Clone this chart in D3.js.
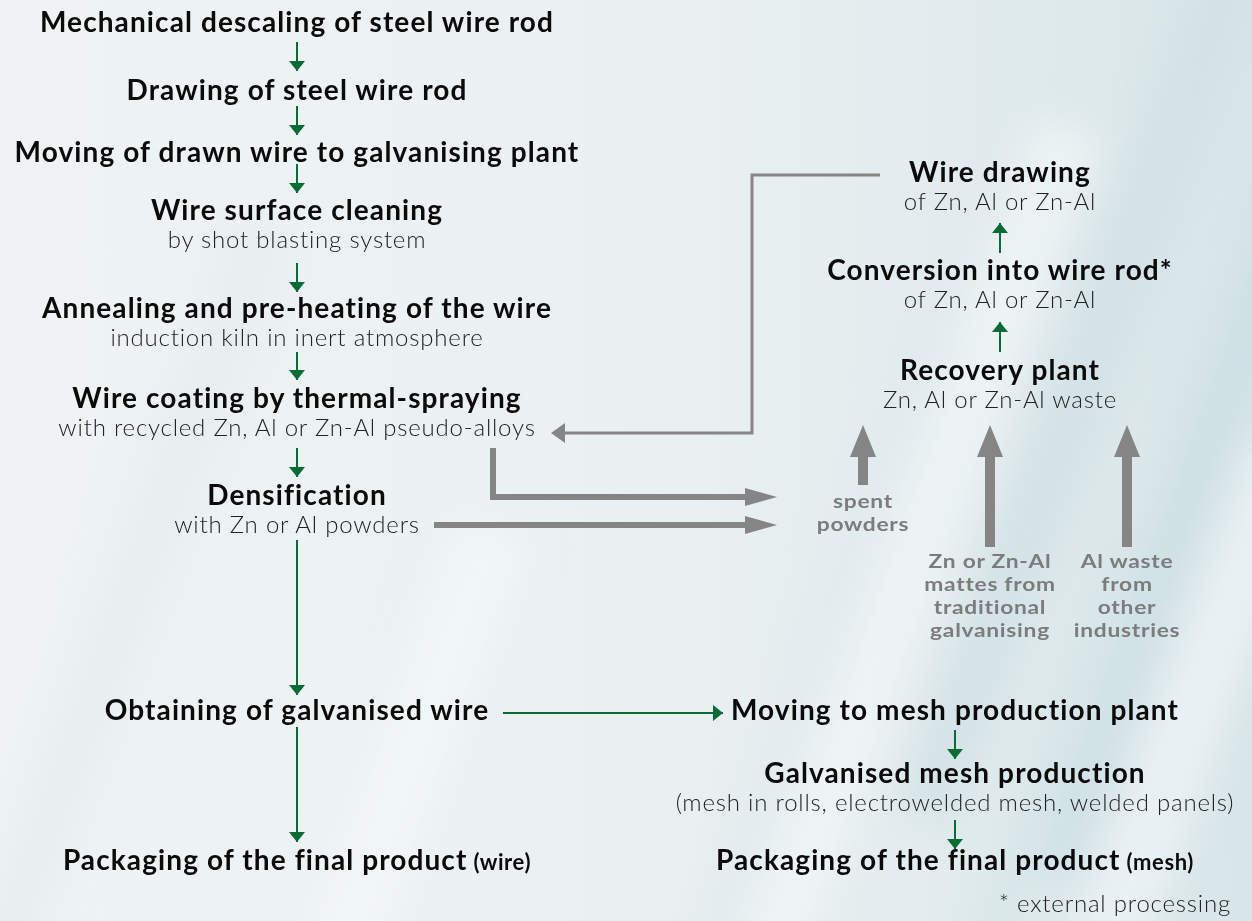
<!DOCTYPE html>
<html>
<head>
<meta charset="utf-8">
<script src="https://cdn.jsdelivr.net/npm/d3@7"></script>
<style>
  body { margin: 0; background: #eef2f3; }
  svg { display: block; }
</style>
</head>
<body>
<div id="chart"></div>
<script>
// process steps (left column)
var mainTitles = [
  "Mechanical descaling of steel wire rod",
  "Drawing of steel wire rod",
  "Moving of drawn wire to galvanising plant",
  "Wire surface cleaning",
  "Annealing and pre-heating of the wire",
  "Wire coating by thermal-spraying",
  "Densification",
  "Obtaining of galvanised wire",
  "Packaging of the final product"
];
var mainSubs = ["", "", "", "by shot blasting system", "induction kiln in inert atmosphere",
  "with recycled Zn, Al or Zn-Al pseudo-alloys", "with Zn or Al powders", "", ""];
var mainSuffix = ["", "", "", "", "", "", "", "", "(wire)"];

// mesh branch
var meshTitles = ["Moving to mesh production plant", "Galvanised mesh production", "Packaging of the final product"];
var meshSubs = ["", "(mesh in rolls, electrowelded mesh, welded panels)", ""];
var meshSuffix = ["", "", "(mesh)"];

// recovery branch (bottom to top)
var recTitles = ["Recovery plant", "Conversion into wire rod*", "Wire drawing"];
var recSubs = ["Zn, Al or Zn-Al waste", "of Zn, Al or Zn-Al", "of Zn, Al or Zn-Al"];

// waste sources feeding recovery plant
var wasteLabels = [
  ["spent", "powders"],
  ["Zn or Zn-Al", "mattes from", "traditional", "galvanising"],
  ["Al waste", "from", "other", "industries"]
];
var footnote = "* external processing";

// layout
var W = 1252, H = 921;
var green = "#0b6b37", grey = "#858585";
var mainX = 297, meshX = 955, recX = 1000;
var mainY = [32, 100, 162, 220, 318, 408, 505, 720, 870];
var meshY = [720, 783, 870];
var recY = [380, 280, 182];
var subGap = 28;
var wasteX = [863, 990, 1127];

var svg = d3.select("#chart").append("svg")
  .attr("width", W).attr("height", H);

// background
var defs = svg.append("defs");
var bg = defs.append("linearGradient").attr("id", "bg")
  .attr("x1", "0%").attr("y1", "0%").attr("x2", "100%").attr("y2", "0%");
bg.append("stop").attr("offset", "0%").attr("stop-color", "#eff3f4");
bg.append("stop").attr("offset", "55%").attr("stop-color", "#eaf0f1");
bg.append("stop").attr("offset", "100%").attr("stop-color", "#d8e6e9");
defs.append("filter").attr("id", "blur").append("feGaussianBlur").attr("stdDeviation", 18);

svg.append("rect").attr("width", W).attr("height", H).attr("fill", "url(#bg)");
var streaks = svg.append("g").attr("filter", "url(#blur)");
[[1050, -60, 60, "#cfe0e4"], [1180, 0, 50, "#c9dde2"], [880, 100, 70, "#f2f6f7"],
 [760, 300, 50, "#dfeaec"], [1100, 420, 70, "#eff5f6"], [960, 520, 40, "#d6e5e8"],
 [300, 500, 80, "#f3f6f7"], [80, 200, 60, "#e6ecee"]].forEach(function(s) {
  streaks.append("rect")
    .attr("x", s[0]).attr("y", s[1]).attr("width", s[2]).attr("height", 900)
    .attr("fill", s[3]).attr("opacity", 0.7)
    .attr("transform", "rotate(20," + (s[0] + s[2] / 2) + "," + (s[1] + 450) + ")");
});

// arrowheads
function headPath(tx, ty, dir, len, wid) {
  var h = wid / 2;
  if (dir === "down") return "M" + tx + "," + ty + "L" + (tx - h) + "," + (ty - len) + "L" + (tx + h) + "," + (ty - len) + "Z";
  if (dir === "up") return "M" + tx + "," + ty + "L" + (tx - h) + "," + (ty + len) + "L" + (tx + h) + "," + (ty + len) + "Z";
  if (dir === "right") return "M" + tx + "," + ty + "L" + (tx - len) + "," + (ty - h) + "L" + (tx - len) + "," + (ty + h) + "Z";
  return "M" + tx + "," + ty + "L" + (tx + len) + "," + (ty - h) + "L" + (tx + len) + "," + (ty + h) + "Z";
}

var arrows = svg.append("g");
function greenArrow(x1, y1, x2, y2, dir) {
  arrows.append("line")
    .attr("x1", x1).attr("y1", y1).attr("x2", x2).attr("y2", y2)
    .attr("stroke", green).attr("stroke-width", 2);
  arrows.append("path").attr("d", headPath(x2, y2, dir, 10, 16)).attr("fill", green);
}

// left column arrows
var mainArrows = [[42, 71], [106, 135], [164, 193], [263, 292], [352, 380], [448, 477], [540, 695], [727, 842]];
mainArrows.forEach(function(a) { greenArrow(mainX, a[0], mainX, a[1], "down"); });

// branch to mesh
greenArrow(503, 713, 723, 713, "right");
greenArrow(meshX, 730, meshX, 759, "down");
greenArrow(meshX, 820, meshX, 849, "down");

// recovery arrows (up)
greenArrow(recX, 352, recX, 322, "up");
greenArrow(recX, 253, recX, 223, "up");

// grey thin return line
arrows.append("path")
  .attr("d", "M880,175H752V433H562")
  .attr("fill", "none").attr("stroke", grey).attr("stroke-width", 3);
arrows.append("path").attr("d", headPath(551, 433, "left", 14, 20)).attr("fill", grey);

// grey thick outputs to spent powders
arrows.append("path")
  .attr("d", "M493,448V497H746")
  .attr("fill", "none").attr("stroke", grey).attr("stroke-width", 6);
arrows.append("path").attr("d", headPath(777, 497, "right", 32, 18)).attr("fill", grey);
arrows.append("path")
  .attr("d", "M434,525H746")
  .attr("fill", "none").attr("stroke", grey).attr("stroke-width", 6);
arrows.append("path").attr("d", headPath(777, 525, "right", 32, 18)).attr("fill", grey);

// thick grey up arrows into recovery plant
var wasteBottom = [485, 547, 547];
wasteX.forEach(function(x, i) {
  arrows.append("rect").attr("x", x - 5).attr("y", 455).attr("width", 10).attr("height", wasteBottom[i] - 455).attr("fill", grey);
  arrows.append("path").attr("d", headPath(x, 425, "up", 32, 26)).attr("fill", grey);
});

// text
var txt = svg.append("g").attr("font-family", "Lato, 'Open Sans', sans-serif");

function step(x, y, title, sub, suffix) {
  var t = txt.append("text")
    .attr("x", x).attr("y", y)
    .attr("text-anchor", "middle")
    .attr("font-size", 28).attr("font-weight", 700).attr("fill", "#0a0a0a")
    .attr("letter-spacing", 1.1)
    .text(title);
  if (suffix) {
    t.append("tspan").attr("font-size", 22).attr("letter-spacing", 0.6).text(" " + suffix);
  }
  if (sub) {
    txt.append("text")
      .attr("x", x).attr("y", y + subGap)
      .attr("text-anchor", "middle")
      .attr("font-size", 24).attr("font-weight", 300).attr("fill", "#222")
      .attr("letter-spacing", 0.8)
      .text(sub);
  }
}

mainTitles.forEach(function(d, i) { step(mainX, mainY[i], d, mainSubs[i], mainSuffix[i]); });
meshTitles.forEach(function(d, i) { step(meshX, meshY[i], d, meshSubs[i], meshSuffix[i]); });
recTitles.forEach(function(d, i) { step(recX, recY[i], d, recSubs[i], ""); });

// waste labels, one text per line, widened horizontally
var wasteTop = [508, 568, 568];
wasteLabels.forEach(function(lines, i) {
  var g = txt.append("g").attr("transform", "translate(" + wasteX[i] + ",0) scale(1.2,1)");
  lines.forEach(function(l, j) {
    g.append("text")
      .attr("x", 0).attr("y", wasteTop[i] + j * 23)
      .attr("text-anchor", "middle")
      .attr("font-size", 19).attr("font-weight", 700).attr("fill", "#7c7c7c")
      .attr("letter-spacing", 0.6)
      .text(l);
  });
});

txt.append("text")
  .attr("x", 1231).attr("y", 912)
  .attr("text-anchor", "end")
  .attr("font-size", 24).attr("font-weight", 300).attr("fill", "#222")
  .attr("letter-spacing", 0.8)
  .text(footnote);
</script>
</body>
</html>
